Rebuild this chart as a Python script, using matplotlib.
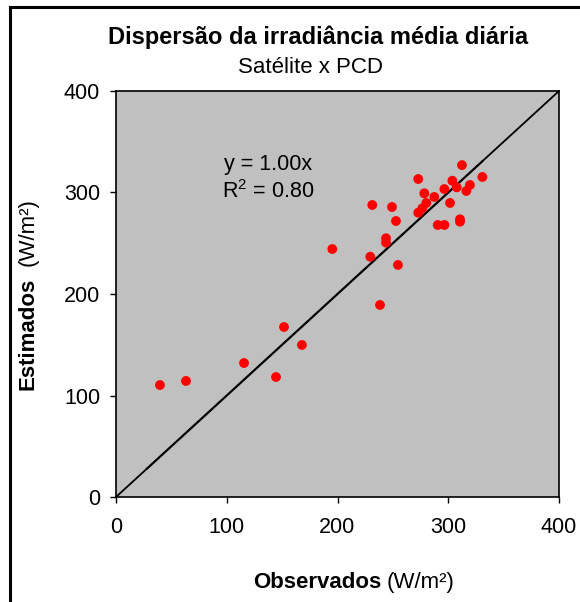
import matplotlib
matplotlib.use("Agg")
import matplotlib.pyplot as plt
from matplotlib.lines import Line2D
import numpy as np

plt.rcParams['font.family'] = ['Liberation Sans', 'DejaVu Sans']
plt.rcParams['mathtext.fontset'] = 'custom'
plt.rcParams['mathtext.rm'] = 'Liberation Sans'
plt.rcParams['mathtext.it'] = 'Liberation Sans:italic'
plt.rcParams['mathtext.bf'] = 'Liberation Sans:bold'

observados = [312.4, 272.9, 303.7, 330.8, 319.6, 307.6, 296.5, 316.3, 278.4, 287.4,
              280.2, 301.6, 276.6, 272.9, 231.4, 249.2, 252.8, 290.5, 296.5, 310.6,
              310.6, 243.8, 243.8, 195.3, 229.6, 254.6, 238.4, 151.7, 167.9, 115.6,
              144.5, 63.2, 39.7]
estimados = [327.0, 313.3, 311.6, 315.3, 307.4, 305.1, 303.4, 301.5, 299.2, 295.6,
             289.7, 289.7, 284.4, 280.1, 287.7, 285.7, 271.9, 268.0, 268.0, 273.6,
             271.2, 254.9, 250.6, 244.3, 236.7, 228.6, 189.2, 167.5, 149.8, 132.0,
             118.2, 114.3, 110.3]
trend_slope = 1.00
trend_range = [28, 331]
ticks = [0, 100, 200, 300, 400]

W, H = 580, 602
fig = plt.figure(figsize=(W/100, H/100), dpi=100)
ax = fig.add_axes([116/W, 1-497/H, (559-116)/W, (497-91)/H])
ax.set_facecolor('#C0C0C0')
ax.set_xlim(0, 400)
ax.set_ylim(0, 400)

tx = np.array(trend_range)
ax.plot(tx, trend_slope*tx, color='#404040', lw=1.6, zorder=2)
ax.plot([0, 400], [0, 400], color='black', lw=1.3, zorder=3)
ax.scatter(observados, estimados, s=50, color='#FF0000', edgecolors='none', zorder=4)

ax.set_xticks(ticks)
ax.set_yticks(ticks)
ax.tick_params(axis='both', direction='out', length=4.3, width=1, labelsize=15.5)
ax.tick_params(axis='x', pad=10)
ax.tick_params(axis='y', pad=7.2)
for s in ax.spines.values():
    s.set_linewidth(1.2)

def fy(py):
    return 1 - py/H

fig.text(268/W, fy(170), 'y = 1.00x', ha='center', va='baseline', fontsize=15.5)
fig.text(268/W, fy(198), 'R$^2$ = 0.80', ha='center', va='baseline', fontsize=15.5)

fig.text(318/W, fy(44), 'Dispersão da irradiância média diária', ha='center', va='baseline',
         fontsize=17, fontweight='bold')
fig.text(311/W, fy(73), 'Satélite x PCD', ha='center', va='baseline', fontsize=16)

fig.text(381/W, fy(588), 'Observados', ha='right', va='baseline', fontsize=16, fontweight='bold')
fig.text(387/W, fy(588), '(W/m²)', ha='left', va='baseline', fontsize=16)

fig.text(28/W, fy(390), 'Estimados', ha='center', va='bottom', rotation=90, fontsize=16, fontweight='bold')
fig.text(28/W, fy(198), '(W/m²)', ha='center', va='top', rotation=90, fontsize=16)

fig.add_artist(Line2D([10/W, 10/W], [0, fy(7)], transform=fig.transFigure, color='black', lw=2.2))
fig.add_artist(Line2D([10/W, 1], [fy(7), fy(7)], transform=fig.transFigure, color='black', lw=2.2))

fig.savefig('out.png', dpi=100)
